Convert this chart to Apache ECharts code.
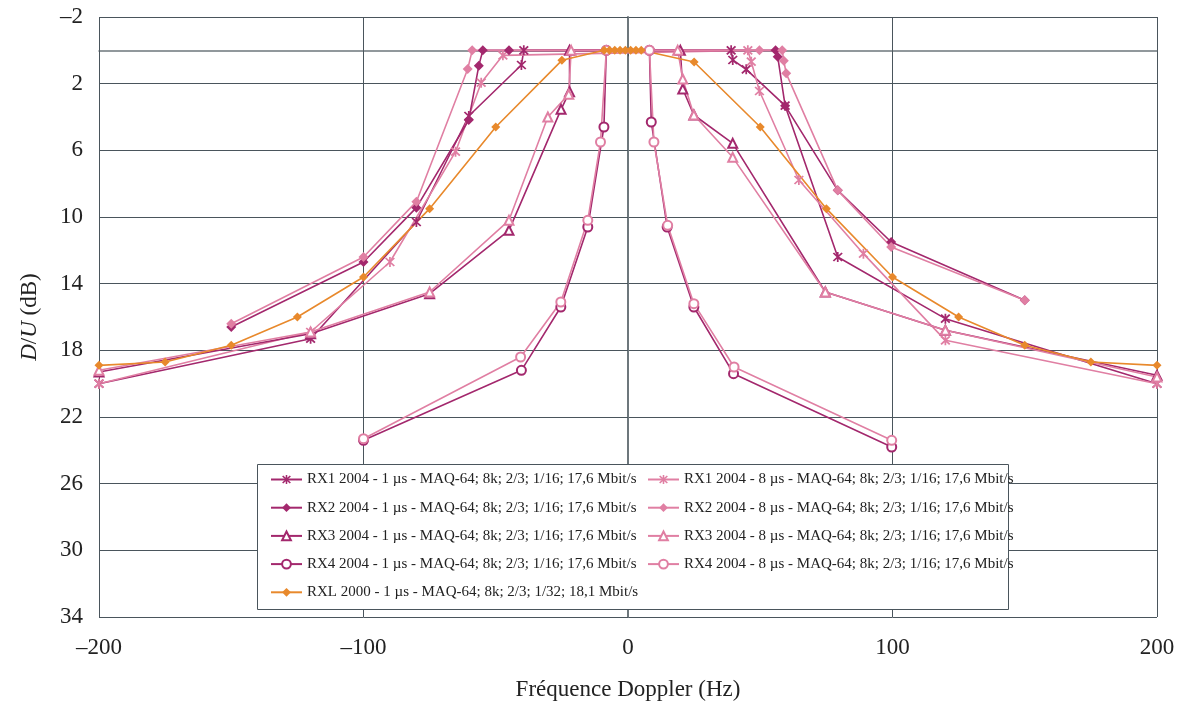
<!DOCTYPE html>
<html>
<head>
<meta charset="utf-8">
<script src="https://cdn.jsdelivr.net/npm/echarts@6/dist/echarts.min.js"></script>
<style>
html,body{margin:0;padding:0;background:#fff;}
#c{width:1181px;height:706px;}
</style>
</head>
<body>
<div id="c"></div>
<script>
// ---- data (Doppler frequency in Hz, D/U in dB) ----
const rx1_1_x = [-200,-120,-80,-60.2,-40.3,-39.4, 39,39.6,44.7,59.4,79.3,120,200];
const rx1_1_y = [20,17.3,10.3,3.94,0.88,0, 0,0.58,1.14,3.32,12.4,16.1,20];
const rx1_8_x = [-200,-120,-90,-65.2,-55.5,-47.3, 45.3,46.6,49.7,64.6,89,120,200];
const rx1_8_y = [20,16.9,12.7,6.08,1.94,0.3, 0,0.68,2.44,7.78,12.2,17.4,20];
const rx2_1_x = [-150,-100,-80,-60.2,-56.4,-54.9,-45, 55.8,56.6,59.4,79.3,99.5,150];
const rx2_1_y = [16.6,12.7,9.44,4.18,0.92,0,0, 0,0.38,3.32,8.4,11.5,15.0];
const rx2_8_x = [-150,-100,-80,-60.6,-58.9, 49.7,58.3,58.9,59.8,79.3,99.5,150];
const rx2_8_y = [16.4,12.4,9.08,1.12,0, 0,0,0.62,1.38,8.4,11.8,15.0];
const rx3_1_x = [-200,-120,-75,-45,-25.3,-22.1,-22.1, 19.8,20.7,24.9,39.6,74.6,120,200];
const rx3_1_y = [19.3,17.0,14.6,10.8,3.54,2.48,0, 0,2.32,3.88,5.58,14.5,16.8,19.5];
const rx3_8_x = [-200,-120,-75,-45,-30.3,-22.4,-21.5, 18.8,20.7,24.9,39.6,74.6,120,200];
const rx3_8_y = [19.2,16.9,14.5,10.2,4.0,2.64,0, 0,1.72,3.88,6.42,14.5,16.8,19.6];
const rx4_1_x = [-100,-40.3,-25.4,-15.2,-9.1,-8.2, 8.1,8.8,14.8,24.9,39.9,99.7];
const rx4_1_y = [23.4,19.2,15.4,10.6,4.6,0, 0,4.3,10.6,15.4,19.4,23.8];
const rx4_8_x = [-100,-40.6,-25.4,-15.2,-10.4,-8.2, 8.1,9.8,15,24.9,40.1,99.7];
const rx4_8_y = [23.3,18.4,15.1,10.2,5.5,0, 0,5.5,10.5,15.2,19.0,23.4];
const rxl_x = [-200,-175,-150,-125,-100,-75,-50,-25,-9,-7,-5,-3,-1,1,3,5,25,50,75,100,125,150,175,200];
const rxl_y = [18.9,18.7,17.7,16.0,13.6,9.5,4.6,0.6,0,0,0,0,0,0,0,0,0.7,4.6,9.5,13.6,16.0,17.7,18.7,18.9];

const names = {
  rx1_1: 'RX1 2004 - 1 µs - MAQ-64; 8k; 2/3; 1/16; 17,6 Mbit/s',
  rx1_8: 'RX1 2004 - 8 µs - MAQ-64; 8k; 2/3; 1/16; 17,6 Mbit/s',
  rx2_1: 'RX2 2004 - 1 µs - MAQ-64; 8k; 2/3; 1/16; 17,6 Mbit/s',
  rx2_8: 'RX2 2004 - 8 µs - MAQ-64; 8k; 2/3; 1/16; 17,6 Mbit/s',
  rx3_1: 'RX3 2004 - 1 µs - MAQ-64; 8k; 2/3; 1/16; 17,6 Mbit/s',
  rx3_8: 'RX3 2004 - 8 µs - MAQ-64; 8k; 2/3; 1/16; 17,6 Mbit/s',
  rx4_1: 'RX4 2004 - 1 µs - MAQ-64; 8k; 2/3; 1/16; 17,6 Mbit/s',
  rx4_8: 'RX4 2004 - 8 µs - MAQ-64; 8k; 2/3; 1/16; 17,6 Mbit/s',
  rxl:   'RXL 2000 - 1 µs - MAQ-64; 8k; 2/3; 1/32; 18,1 Mbit/s'
};
const yLabelValues = [-2,2,6,10,14,18,22,26,30,34];

const DARK = '#a3286d', LIGHT = '#e07fa3', ORANGE = '#e8892c';
const FONT = '"Liberation Serif", "Times New Roman", serif';
const ASTER = 'path://M4.2 0 L5.8 0 L5.8 10 L4.2 10 Z M0.4 1.6 L1.6 0.4 L9.6 8.4 L8.4 9.6 Z M8.4 0.4 L9.6 1.6 L1.6 9.6 L0.4 8.4 Z';

function pairs(xs, ys){ return xs.map((v,i)=>[v, ys[i]]); }
function mk(name, xs, ys, color, symbol, size){
  return {
    name, type:'line', data: pairs(xs, ys),
    symbol, symbolSize: size, showSymbol: true,
    lineStyle:{color, width:1.6},
    itemStyle:{color, borderColor: color, borderWidth: symbol.indexOf('empty')===0 ? 1.4 : 0},
    emphasis:{disabled:true}, animation:false, z: 3
  };
}
const fmt = v => String(v).replace('-', '\u2013');
const legendCommon = {
  orient:'vertical', top:472, itemGap:13.2, itemWidth:31, itemHeight:11, padding:0,
  textStyle:{fontFamily:FONT, fontSize:15, color:'#222'}, z:60, selectedMode:false
};

const chart = echarts.init(document.getElementById('c'), null, {renderer:'canvas'});
chart.setOption({
  backgroundColor:'#fff',
  animation:false,
  grid:{left:99, right:24, top:17, bottom:89},
  xAxis:{
    type:'value', min:-200, max:200, interval:100,
    name:'Fréquence Doppler (Hz)', nameLocation:'middle', nameGap:61,
    nameTextStyle:{fontFamily:FONT, fontSize:23, color:'#222'},
    axisLine:{show:true, lineStyle:{color:'#6d777c', width:1.5}},
    axisTick:{show:true, length:6, inside:false, lineStyle:{color:'#4a555c'}},
    axisLabel:{fontFamily:FONT, fontSize:23, color:'#222', margin:19, formatter: fmt},
    splitLine:{show:true, lineStyle:{color:'#4a555c', width:1}}
  },
  yAxis:{
    type:'value', min:-2, max:34, interval:2, inverse:true,
    name:'{i|D}/{i|U} (dB)', nameLocation:'middle', nameGap:58, nameRotate:90,
    nameTextStyle:{fontFamily:FONT, fontSize:23, color:'#222',
      rich:{i:{fontFamily:FONT, fontSize:23, fontStyle:'italic', color:'#222'}}},
    axisLine:{show:true, lineStyle:{color:'#6d777c', width:2}},
    axisTick:{show:true, length:6, customValues: yLabelValues, lineStyle:{color:'#4a555c'}},
    axisLabel:{fontFamily:FONT, fontSize:23, color:'#222', margin:16,
      customValues: yLabelValues, formatter: fmt},
    splitLine:{show:true, lineStyle:{color:'#4a555c', width:1}}
  },
  graphic:[{
    type:'rect', left:257, top:464, z:50,
    shape:{width:751, height:145},
    style:{fill:'#fff', stroke:'#4a555c', lineWidth:1}
  }],
  legend:[
    Object.assign({}, legendCommon, {left:270,
      data:[names.rx1_1, names.rx2_1, names.rx3_1, names.rx4_1, names.rxl]}),
    Object.assign({}, legendCommon, {left:647,
      data:[names.rx1_8, names.rx2_8, names.rx3_8, names.rx4_8]})
  ],
  series:[
    mk(names.rx1_1, rx1_1_x, rx1_1_y, DARK, ASTER, 10),
    mk(names.rx1_8, rx1_8_x, rx1_8_y, LIGHT, ASTER, 10),
    mk(names.rx2_1, rx2_1_x, rx2_1_y, DARK, 'diamond', 10),
    mk(names.rx2_8, rx2_8_x, rx2_8_y, LIGHT, 'diamond', 10),
    mk(names.rx3_1, rx3_1_x, rx3_1_y, DARK, 'emptyTriangle', 9),
    mk(names.rx3_8, rx3_8_x, rx3_8_y, LIGHT, 'emptyTriangle', 9),
    mk(names.rx4_1, rx4_1_x, rx4_1_y, DARK, 'emptyCircle', 9),
    mk(names.rx4_8, rx4_8_x, rx4_8_y, LIGHT, 'emptyCircle', 9),
    mk(names.rxl, rxl_x, rxl_y, ORANGE, 'diamond', 9)
  ]
});
</script>
</body>
</html>
